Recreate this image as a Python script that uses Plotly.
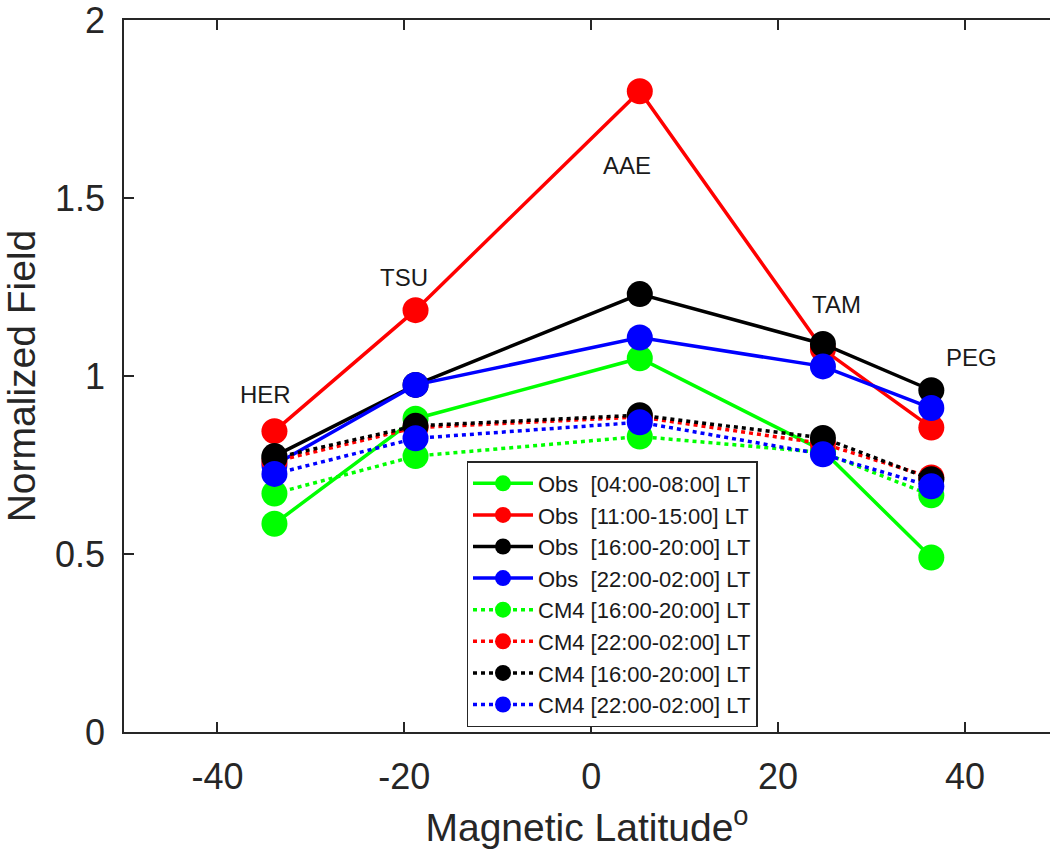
import plotly.graph_objects as go

# Station magnetic latitudes and names
stations = ["HER", "TSU", "AAE", "TAM", "PEG"]
mag_lat = [-33.9, -18.8, 5.2, 24.8, 36.4]

# Observed normalized field
obs_0408 = [0.585, 0.88, 1.05, 0.79, 0.49]
obs_1115 = [0.845, 1.185, 1.80, 1.075, 0.855]
obs_1620 = [0.775, 0.975, 1.23, 1.09, 0.96]
obs_2202 = [0.75, 0.975, 1.108, 1.027, 0.91]

# CM4 model normalized field
cm4_a = [0.67, 0.775, 0.83, 0.785, 0.665]
cm4_b = [0.76, 0.855, 0.885, 0.81, 0.715]
cm4_c = [0.77, 0.86, 0.89, 0.826, 0.71]
cm4_d = [0.725, 0.825, 0.87, 0.78, 0.69]

# Station label positions
label_x = [-34.9, -20.0, 3.8, 26.2, 40.7]
label_y = [0.947, 1.278, 1.59, 1.201, 1.052]

x_ticks = [-40, -20, 0, 20, 40]
y_ticks = [0, 0.5, 1, 1.5, 2]
y_tick_text = ["0", "0.5", "1", "1.5", "2"]

series = [
    ("Obs\u00a0\u00a0[04:00-08:00] LT", obs_0408, "#00ff00", "solid"),
    ("Obs\u00a0\u00a0[11:00-15:00] LT", obs_1115, "#ff0000", "solid"),
    ("Obs\u00a0\u00a0[16:00-20:00] LT", obs_1620, "#000000", "solid"),
    ("Obs\u00a0\u00a0[22:00-02:00] LT", obs_2202, "#0000ff", "solid"),
    ("CM4 [16:00-20:00] LT", cm4_a, "#00ff00", "4px,4px"),
    ("CM4 [22:00-02:00] LT", cm4_b, "#ff0000", "4px,4px"),
    ("CM4 [16:00-20:00] LT", cm4_c, "#000000", "4px,4px"),
    ("CM4 [22:00-02:00] LT", cm4_d, "#0000ff", "4px,4px"),
]

FONT = "Liberation Sans, Arial, Helvetica, sans-serif"
AX = "#262626"

fig = go.Figure()
for name, vals, col, dash in series:
    fig.add_trace(go.Scatter(
        x=mag_lat, y=vals, name=name, mode="lines+markers",
        line=dict(color=col, width=3.5, dash=dash),
        marker=dict(color=col, size=26, line=dict(width=0)),
    ))

for s, lx, ly in zip(stations, label_x, label_y):
    fig.add_annotation(x=lx, y=ly, text=s, showarrow=False,
                       xanchor="center", yanchor="middle",
                       font=dict(family=FONT, size=24, color="#1a1a1a"))

fig.update_layout(
    width=1050, height=857,
    margin=dict(l=124, r=0, t=17, b=125),
    paper_bgcolor="white", plot_bgcolor="white",
    font=dict(family=FONT, color=AX),
    showlegend=True,
    legend=dict(
        x=0.527, y=0.007, xanchor="center", yanchor="bottom",
        bgcolor="white", bordercolor=AX, borderwidth=1.5,
        font=dict(family=FONT, size=22, color="#1a1a1a"),
        tracegroupgap=0, itemwidth=60,
    ),
    xaxis=dict(
        range=[-50, 49.1], tickvals=x_ticks, ticktext=[str(v) for v in x_ticks],
        showline=True, linecolor=AX, linewidth=1.5, mirror="ticks",
        ticks="inside", ticklen=10, tickwidth=1.5, tickcolor=AX,
        showgrid=False, zeroline=False,
        tickfont=dict(family=FONT, size=36, color=AX),
        ticklabelstandoff=12, ticklabeloverflow="allow",
        title=dict(text="Magnetic Latitude<sup>o</sup>",
                   font=dict(family=FONT, size=39, color=AX), standoff=18),
    ),
    yaxis=dict(
        range=[0, 2], tickvals=y_ticks, ticktext=y_tick_text,
        showline=True, linecolor=AX, linewidth=1.5, mirror=False,
        ticks="inside", ticklen=10, tickwidth=1.5, tickcolor=AX,
        showgrid=False, zeroline=False,
        tickfont=dict(family=FONT, size=36, color=AX),
        ticklabelstandoff=10, ticklabeloverflow="allow",
        title=dict(text="Normalized Field",
                   font=dict(family=FONT, size=39, color=AX), standoff=10),
    ),
)

fig.write_html("out.html")
